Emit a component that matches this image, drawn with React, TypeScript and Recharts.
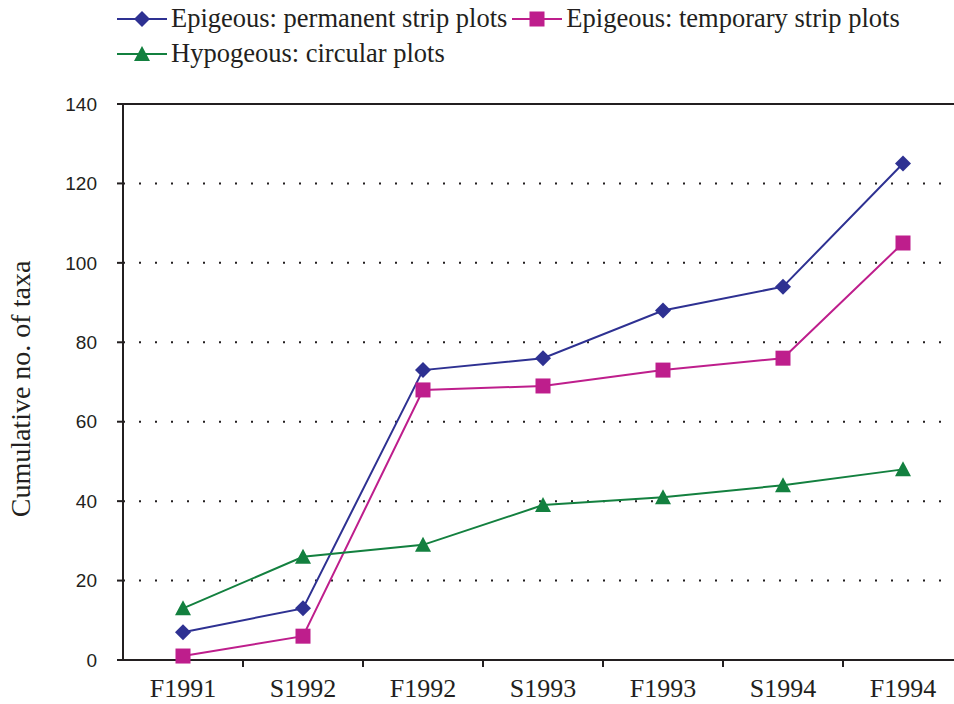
import React from "react";
import {
  LineChart,
  Line,
  XAxis,
  YAxis,
  CartesianGrid,
  ReferenceLine,
} from "recharts";

const categories = ["F1991", "S1992", "F1992", "S1993", "F1993", "S1994", "F1994"];
const permanentStrip = [7, 13, 73, 76, 88, 94, 125];
const temporaryStrip = [1, 6, 68, 69, 73, 76, 105];
const circularPlots = [13, 26, 29, 39, 41, 44, 48];
const yTicks = [0, 20, 40, 60, 80, 100, 120, 140];

const series = [
  { key: "permanent", name: "Epigeous: permanent strip plots", color: "#2E3192", shape: "diamond" },
  { key: "temporary", name: "Epigeous: temporary strip plots", color: "#BE1E8C", shape: "square" },
  { key: "circular", name: "Hypogeous: circular plots", color: "#13803F", shape: "triangle" },
];

const data = categories.map((c, i) => ({
  period: c,
  permanent: permanentStrip[i],
  temporary: temporaryStrip[i],
  circular: circularPlots[i],
}));

const INK = "#231F20";
const SERIF = "'Liberation Serif', 'Times New Roman', serif";
const SANS = "'Liberation Sans', Arial, sans-serif";

const W = 970;
const H = 704;
const margin = { top: 104, right: 7, left: 0, bottom: 4 };
const Y_W = 123;

function Marker({ shape, cx, cy, color }: { shape: string; cx: number; cy: number; color: string }) {
  if (shape === "diamond") {
    const r = 8;
    return <path d={`M${cx},${cy - r}L${cx + r},${cy}L${cx},${cy + r}L${cx - r},${cy}Z`} fill={color} />;
  }
  if (shape === "square") {
    const r = 7.5;
    return <rect x={cx - r} y={cy - r} width={r * 2} height={r * 2} fill={color} />;
  }
  const r = 8;
  return <path d={`M${cx},${cy - r}L${cx + r},${cy + 7}L${cx - r},${cy + 7}Z`} fill={color} />;
}

function XTick(props: any) {
  const { x, y, payload } = props;
  const half = payload && payload.offset ? payload.offset : (W - margin.right - Y_W) / categories.length / 2;
  return (
    <g>
      {props.index > 0 && (
        <line x1={x - half} x2={x - half} y1={y} y2={y + 7} stroke={INK} strokeWidth={2} />
      )}
      <text x={x} y={y + 37} textAnchor="middle" fill={INK} fontFamily={SERIF} fontSize={26}>
        {payload.value}
      </text>
    </g>
  );
}

function YLabel(props: any) {
  const vb = props.viewBox || { x: 0, y: 104, width: 123, height: 556 };
  const cx = 30;
  const cy = vb.y + vb.height / 2 + 7;
  return (
    <text
      x={cx}
      y={cy}
      transform={`rotate(-90 ${cx} ${cy})`}
      textAnchor="middle"
      fill={INK}
      fontFamily={SERIF}
      fontSize={28}
    >
      Cumulative no. of taxa
    </text>
  );
}

function Legend() {
  return (
    <div
      style={{
        position: "absolute",
        left: 117,
        top: 0,
        width: 800,
        display: "flex",
        flexWrap: "wrap",
        columnGap: 5,
        fontFamily: SERIF,
        fontSize: 26.5,
        color: INK,
        lineHeight: "35px",
        paddingTop: 1,
      }}
    >
      {series.map((s) => (
        <div key={s.key} style={{ display: "flex", alignItems: "center", whiteSpace: "nowrap" }}>
          <svg width={50} height={20} style={{ marginRight: 4 }}>
            <line x1={0} x2={50} y1={10} y2={10} stroke={s.color} strokeWidth={2} />
            <Marker shape={s.shape} cx={25} cy={10} color={s.color} />
          </svg>
          <span>{s.name}</span>
        </div>
      ))}
    </div>
  );
}

export default function App() {
  return (
    <div
      style={{
        position: "absolute",
        left: 0,
        top: 0,
        width: 954,
        height: 704,
        overflow: "hidden",
        background: "#fff",
      }}
    >
      <Legend />
      <LineChart width={W} height={H} data={data} margin={margin}>
        <CartesianGrid
          horizontal
          vertical={false}
          stroke={INK}
          strokeWidth={2}
          strokeDasharray="2 14"
        />
        <ReferenceLine y={140} stroke={INK} strokeWidth={2} />
        <XAxis
          dataKey="period"
          scale="band"
          height={40}
          axisLine={{ stroke: INK, strokeWidth: 2 }}
          tickLine={false}
          tickSize={0}
          tickMargin={0}
          interval={0}
          tick={<XTick />}
        />
        <YAxis
          width={Y_W}
          domain={[0, 140]}
          ticks={yTicks}
          interval={0}
          axisLine={{ stroke: INK, strokeWidth: 2 }}
          tickLine={{ stroke: INK, strokeWidth: 2 }}
          tickSize={6}
          tickMargin={20}
          tick={{ fill: INK, fontFamily: SANS, fontSize: 19 }}
          label={<YLabel />}
        />
        {series.map((s) => (
          <Line
            key={s.key}
            type="linear"
            dataKey={s.key}
            name={s.name}
            stroke={s.color}
            strokeWidth={2}
            isAnimationActive={false}
            dot={(p: any) => (
              <Marker key={`${s.key}-${p.index}`} shape={s.shape} cx={p.cx} cy={p.cy} color={s.color} />
            )}
            activeDot={false}
          />
        ))}
      </LineChart>
    </div>
  );
}
